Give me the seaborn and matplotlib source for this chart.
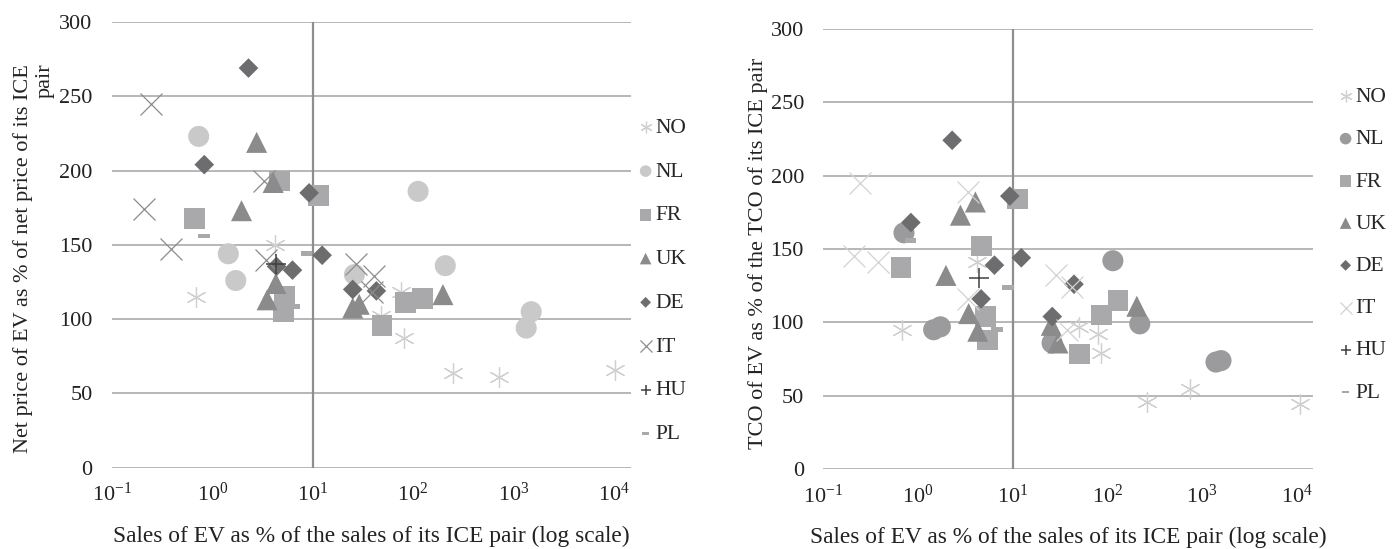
import numpy as np
import pandas as pd
import matplotlib
matplotlib.use("Agg")
import matplotlib.pyplot as plt
from matplotlib.ticker import NullLocator
import seaborn as sns

# --- data ---
countries = ["NO", "NL", "FR", "UK", "DE", "IT", "HU", "PL"]
n_points = [8, 8, 8, 8, 8, 8, 1, 3]

# left panel: net price of EV as % of ICE pair
price_sales = [0.69, 4.19, 76, 48, 82, 250, 714, 10350,
               0.73, 1.44, 1.71, 26, 112, 209, 1500, 1337,
               0.66, 4.7, 11.3, 5.26, 5.07, 49, 84, 125,
               2.76, 4.03, 1.95, 4.29, 3.51, 25, 29, 198,
               2.29, 0.83, 9.2, 4.35, 6.28, 12.4, 25, 43,
               0.244, 3.25, 0.21, 0.39, 3.4, 27, 41, 39,
               4.3,
               0.82, 8.65, 6.6]
price_value = [115, 150, 118, 102, 87, 64, 61, 66,
               223, 144, 126, 130, 186, 136, 105, 94,
               168, 193, 183, 115, 105, 95.5, 111, 114,
               219, 192, 173, 124, 113, 107.5, 110, 116.5,
               269, 204, 185, 135.5, 133, 143, 120, 119,
               244.5, 193, 174, 147, 140, 137, 129, 118,
               137,
               156, 144, 108.6]

# right panel: TCO of EV as % of ICE pair
tco_sales = [0.676, 4.2, 49.9, 79, 85, 258, 741, 10880,
             0.71, 1.46, 1.72, 114, 219, 26, 1396, 1578,
             0.66, 4.67, 11.3, 5.14, 5.43, 86, 129, 50.8,
             2.8, 4.03, 1.97, 3.42, 4.27, 25.5, 30, 204,
             2.29, 0.84, 9.3, 4.63, 6.4, 12.3, 26.1, 44.3,
             0.244, 3.37, 0.21, 0.38, 3.34, 28.3, 42.5, 37.7,
             4.38,
             0.83, 8.85, 6.84]
tco_value = [95, 141, 97, 92, 79, 46, 55, 44.5,
             161, 95, 97, 142, 99, 86, 73, 74,
             137.5, 152, 184, 104, 88, 105, 115, 78.5,
             173, 182, 132, 106, 94, 98, 86, 111,
             224, 168, 186, 116, 139, 144, 104, 126,
             195, 189, 145, 141, 116, 132, 124, 95,
             130,
             156, 124, 95]

country_col = np.repeat(countries, n_points)
price_df = pd.DataFrame({"country": country_col, "sales": price_sales, "value": price_value})
tco_df = pd.DataFrame({"country": country_col, "sales": tco_sales, "value": tco_value})

# --- styling ---
dash = [(-1, -0.42), (1, -0.42), (1, 0.42), (-1, 0.42)]
markers = {"NO": (6, 2, 0), "NL": "o", "FR": "s", "UK": "^", "DE": "D",
           "IT": "x", "HU": "+", "PL": dash}
sizes = {"NO": 200, "NL": 230, "FR": 225, "UK": 230, "DE": 100,
         "IT": 250, "HU": 200, "PL": 70}
line_w = {"NO": 0.9, "IT": 0.9, "HU": 1.1}

left_colors = {"NO": "#d0d0d0", "NL": "#c9c9c9", "FR": "#a9a9ab", "UK": "#8b8b8b",
               "DE": "#6d6d6f", "IT": "#8c8c8c", "HU": "#404040", "PL": "#a9a9ab"}
right_colors = {"NO": "#d0d0d0", "NL": "#9b9b9d", "FR": "#a9a9ab", "UK": "#8b8b8b",
                "DE": "#6d6d6f", "IT": "#d2d2d2", "HU": "#404040", "PL": "#a9a9ab"}

sns.set_style("white")
plt.rcParams["font.family"] = ["Liberation Serif", "DejaVu Serif"]
plt.rcParams["mathtext.default"] = "regular"

GRID = "#a3a3a3"
TXT = "#222222"


def draw_panel(ax, df, colors, ylabel, ypad, ylab_x, ylab_y, xpad):
    for c in countries:
        sub = df[df["country"] == c]
        kw = dict(marker=markers[c], s=sizes[c], color=colors[c], zorder=3, label=c, ax=ax)
        if c in line_w:
            kw["linewidth"] = line_w[c]
        else:
            kw["linewidth"] = 0
            kw["edgecolor"] = "none"
        sns.scatterplot(data=sub, x="sales", y="value", **kw)

    ax.set_xscale("log")
    ax.set_xlim(0.1, 10 ** 4.17)
    ax.set_ylim(0, 300)
    ax.set_yticks(range(0, 301, 50))
    ax.set_xticks([0.1, 1, 10, 100, 1000, 10000])
    ax.set_xticklabels([r"$10^{-1}$", r"$10^{0}$", r"$10^{1}$",
                        r"$10^{2}$", r"$10^{3}$", r"$10^{4}$"])
    ax.xaxis.set_minor_locator(NullLocator())
    ax.grid(axis="y", color=GRID, lw=1.1)
    ax.grid(axis="x", visible=False)
    ax.set_axisbelow(True)
    ax.axvline(10, color="#8e8e8e", lw=1.6, zorder=1)
    for sp in ax.spines.values():
        sp.set_visible(False)
    ax.tick_params(axis="y", length=0, pad=ypad, labelsize=16, labelcolor=TXT)
    ax.tick_params(axis="x", length=4, width=1, color=GRID, direction="out",
                   labelsize=16, pad=7, labelcolor=TXT)

    ax.set_xlabel("Sales of EV as % of the sales of its ICE pair (log scale)",
                  fontsize=16.8, color=TXT, labelpad=xpad)
    ax.set_ylabel(ylabel, fontsize=16, color=TXT, multialignment="right")
    ax.yaxis.set_label_coords(ylab_x, ylab_y)


fig = plt.figure(figsize=(14, 5.49), dpi=100)
ax1 = fig.add_axes([0.08, 0.1481, 0.3707, 0.8118])
ax2 = fig.add_axes([0.5881, 0.1452, 0.3498, 0.8026])

draw_panel(ax1, price_df, left_colors,
           "Net price of EV as % of net price of its ICE\npair", 14, -0.11, 0.47, 14.5)
draw_panel(ax2, tco_df, right_colors,
           "TCO of EV as % of the TCO of its ICE pair", 14, -0.113, 0.49, 14)

for ax, xa, ya, ls in [(ax1, 0.455, 0.488, 1.1), (ax2, 0.955, 0.554, 1.03)]:
    ax.legend(loc="center left", bbox_to_anchor=(xa, ya), bbox_transform=fig.transFigure,
              frameon=False, markerscale=0.55, handletextpad=0.05, handlelength=0.8,
              labelspacing=ls, fontsize=15.5, scatterpoints=1, borderaxespad=0,
              borderpad=0)

fig.savefig("out.png", dpi=100)
